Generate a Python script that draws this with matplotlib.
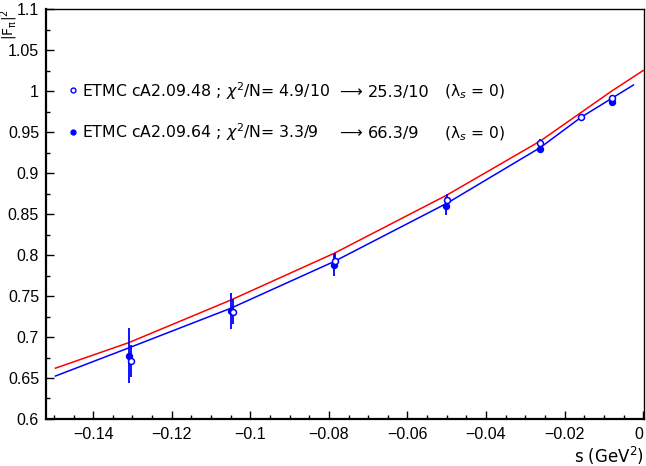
import matplotlib
matplotlib.use("Agg")
import matplotlib.pyplot as plt
from matplotlib.ticker import MultipleLocator, FuncFormatter

# fonts: ticks in a Helvetica-like face, legend in a wider round face
plt.rcParams['font.family'] = ['Liberation Sans', 'DejaVu Sans']
plt.rcParams['mathtext.fontset'] = 'dejavusans'
LEG_FONT = ['DejaVu Sans']

############### data ###############
# ETMC cA2.09.48 (open circles)
s_48 = [-0.1304, -0.1043, -0.0785, -0.0500, -0.0262, -0.0158, -0.0080]
f_48 = [0.671, 0.731, 0.793, 0.867, 0.936, 0.968, 0.991]
e_48 = [0.0195, 0.015, 0.010, 0.008, 0.005, 0.003, 0.003]

# ETMC cA2.09.64 (filled circles)
s_64 = [-0.1310, -0.1050, -0.0787, -0.0502, -0.0262, -0.0080]
f_64 = [0.677, 0.732, 0.788, 0.860, 0.9296, 0.987]
e_64 = [0.0335, 0.022, 0.013, 0.011, 0.005, 0.003]

# fit curves
red_s = [-0.1496, -0.1310, -0.1050, -0.0787, -0.0500, -0.0262, -0.0080, 0.0]
red_f = [0.662, 0.693, 0.745, 0.802, 0.873, 0.939, 1.000, 1.025]
blue_s = [-0.1496, -0.1310, -0.1050, -0.0787, -0.0500, -0.0262, -0.0158, -0.0025]
blue_f = [0.6524, 0.6866, 0.735, 0.792, 0.863, 0.931, 0.968, 1.0073]

legend_rows = [("ETMC cA2.09.48 ; $\\chi^2$/N= 4.9/10", "25.3/10"),
               ("ETMC cA2.09.64 ; $\\chi^2$/N= 3.3/9", "66.3/9")]

BLUE = "#0000ff"
RED = "#ff0000"

############### figure ###############
W, H = 646, 466
fig = plt.figure(figsize=(W / 100, H / 100), dpi=100)
ax = fig.add_axes([46 / W, (H - 419) / H, 598 / W, 410 / H])

ax.plot(red_s, red_f, color=RED, lw=1.1)
ax.plot(blue_s, blue_f, color=BLUE, lw=1.1)

ax.errorbar(s_64, f_64, yerr=e_64, fmt='o', color=BLUE, ms=4.3,
            mfc=BLUE, mec=BLUE, elinewidth=1.3, capsize=0)
ax.errorbar(s_48, f_48, yerr=e_48, fmt='o', color=BLUE, ms=4.3,
            mfc='white', mec=BLUE, mew=1.1, elinewidth=1.3, capsize=0)

ax.set_xlim(-0.152, 0.0002)
ax.set_ylim(0.6, 1.1)

fmt = FuncFormatter(lambda v, p: f"{v:g}".replace('-', '\u2212'))
ax.xaxis.set_major_locator(MultipleLocator(0.02))
ax.xaxis.set_minor_locator(MultipleLocator(0.005))
ax.yaxis.set_major_locator(MultipleLocator(0.05))
ax.yaxis.set_minor_locator(MultipleLocator(0.025))
ax.xaxis.set_major_formatter(fmt)
ax.yaxis.set_major_formatter(fmt)
ax.tick_params(which='both', direction='in', top=False, right=False,
               labelsize=11.5, width=1.0)
ax.tick_params(which='major', length=6)
ax.tick_params(which='minor', length=3)
ax.tick_params(axis='y', pad=5)
ax.tick_params(axis='x', pad=6)

for side in ['left', 'bottom']:
    ax.spines[side].set_linewidth(1.6)
for side in ['top', 'right']:
    ax.spines[side].set_linewidth(1.0)

# legend drawn by hand, ROOT style
for i, (name, val) in enumerate(legend_rows):
    ym = [0.802, 0.699][i]
    yb = [0.786, 0.6846][i]
    ax.plot([0.0457], [ym], 'o', transform=ax.transAxes, ms=3.5,
            mec=BLUE, mfc=BLUE if i == 1 else 'white', mew=1.0, clip_on=False)
    ax.text(0.0607, yb, name, transform=ax.transAxes, fontsize=11.3,
            va='baseline', family=LEG_FONT)
    ax.text(0.490, yb, "\u27f6", transform=ax.transAxes, fontsize=11.4,
            va='baseline', family=LEG_FONT)
    ax.text(0.5385, yb, val, transform=ax.transAxes, fontsize=11.6,
            va='baseline', family=LEG_FONT)
    ax.text(0.6656, yb, "(\u03bb$_s$ = 0)", transform=ax.transAxes, fontsize=11.2,
            va='baseline', family=LEG_FONT)

# axis titles
fig.text(9 / W, 1 - 24 / H, "$\\mathrm{|F_\\pi|^2}$", rotation=90, ha='center',
         va='center', fontsize=10, family=LEG_FONT)
fig.text(644 / W, 1 - 463 / H, "s (GeV$^2$)", ha='right', va='baseline',
         fontsize=12, family=LEG_FONT)

# keep the "0" at the right end inside the canvas
fig.canvas.draw()
for lbl in ax.xaxis.get_majorticklabels():
    if lbl.get_text() == '0':
        lbl.set_horizontalalignment('right')

fig.savefig("out.png", dpi=100)
